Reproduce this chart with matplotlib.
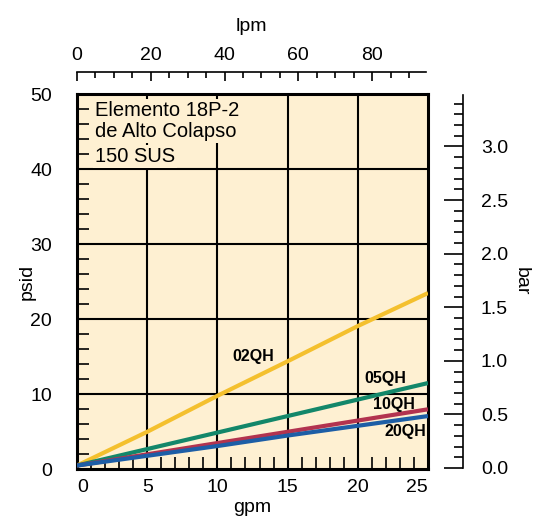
import numpy as np
import matplotlib
matplotlib.use('Agg')
import matplotlib.pyplot as plt

plt.rcParams['font.family'] = ['Liberation Sans', 'DejaVu Sans']

# 数据
gpm = [0, 5, 10, 15, 20, 25]
psid_02qh = [0.5, 5.0, 9.8, 14.4, 19.1, 23.5]
psid_05qh = [0.5, 2.7, 4.9, 7.1, 9.3, 11.5]
psid_10qh = [0.5, 2.0, 3.5, 5.0, 6.5, 8.0]
psid_20qh = [0.5, 1.8, 3.1, 4.5, 5.8, 7.1]
series_names = ['02QH', '05QH', '10QH', '20QH']
series_colors = ['#F4C02E', '#13876A', '#B2334F', '#1D5EA6']

x_ticks = [0, 5, 10, 15, 20, 25]
y_ticks = [0, 10, 20, 30, 40, 50]
lpm_ticks = [0, 20, 40, 60, 80]
bar_ticks = [0.0, 0.5, 1.0, 1.5, 2.0, 2.5, 3.0]
note_lines = ['Elemento 18P-2', 'de Alto Colapso', '150 SUS']

GPM_TO_LPM = 3.785
BAR_MAX = 3.48
bg = '#FEF0D2'
fs = 14

W, H = 545, 517
fig = plt.figure(figsize=(W / 100, H / 100), dpi=100)

# 主坐标区
left, right, top, bottom = 77, 428, 94.3, 469.3
ax = fig.add_axes([left / W, 1 - bottom / H, (right - left) / W, (bottom - top) / H])
ax.set_facecolor(bg)
ax.set_xlim(0, 25)
ax.set_ylim(0, 50)
ax.set_axisbelow(False)  # 刻度画在说明文字上面

# 网格线
for gx in [5, 10, 15, 20]:
    ax.axvline(gx, color='black', lw=1.5, zorder=1)
for gy in [10, 20, 30, 40]:
    ax.axhline(gy, color='black', lw=1.5, zorder=1)

# 曲线
all_series = [psid_02qh, psid_05qh, psid_10qh, psid_20qh]
for vals, c in zip(all_series, series_colors):
    ax.plot(gpm, vals, color=c, lw=3, solid_capstyle='butt', zorder=3)

# 曲线标签
label_pos = [(12.57, 15.0), (21.98, 12.04), (22.55, 8.7), (23.4, 5.0)]
for name, (tx, ty) in zip(series_names, label_pos):
    ax.text(tx, ty, name, fontsize=11.5, fontweight='bold', ha='center', va='center', zorder=4)

# 说明文字 (带背景遮住网格线)
note_y = [47.9, 45.1, 41.7]
for line, ny in zip(note_lines, note_y):
    ax.text(1.3, ny, line, fontsize=14.5, ha='left', va='center', zorder=1.2,
            bbox=dict(facecolor=bg, edgecolor='none', pad=1.5))

# 坐标轴刻度
ax.set_xticks(x_ticks)
ax.set_yticks(y_ticks)
ax.set_xticks(np.arange(0, 26, 1), minor=True)
ax.set_yticks(np.arange(0, 51, 2), minor=True)
ax.tick_params(axis='both', which='major', direction='in', length=0, labelsize=fs)
ax.tick_params(axis='x', which='major', pad=7)
ax.tick_params(axis='y', which='major', pad=18)
ax.tick_params(axis='both', which='minor', direction='in', length=8.6, width=1.2)
ax.tick_params(top=False, right=False, which='both')
xl = ax.get_xticklabels()
xl[0].set_ha('left')
xl[-1].set_ha('right')
ax.set_xlabel('gpm', fontsize=fs, labelpad=2)
ax.set_ylabel('psid', fontsize=fs, labelpad=-4)
for s in ax.spines.values():
    s.set_linewidth(2.2)

# 顶部短刻度
ax_t = ax.secondary_xaxis('top')
ax_t.set_xticks([5, 10, 15, 20])
ax_t.tick_params(direction='in', length=3, width=1.2, labeltop=False)
ax_t.spines['top'].set_visible(False)

# lpm 刻度 (上方)
ly = 72.3
ax_l = fig.add_axes([left / W, 1 - ly / H, (426 - left) / W, 0.0005])
ax_l.set_xlim(0, 25 * GPM_TO_LPM)
ax_l.patch.set_visible(False)
for k in ['bottom', 'left', 'right']:
    ax_l.spines[k].set_visible(False)
ax_l.spines['top'].set_linewidth(1.2)
ax_l.set_yticks([])
ax_l.xaxis.tick_top()
ax_l.xaxis.set_label_position('top')
ax_l.set_xticks(lpm_ticks)
ax_l.set_xticks(np.arange(0, 95, 5), minor=True)
ax_l.tick_params(axis='x', which='major', direction='in', length=6.8, width=1.2, pad=5.5, labelsize=fs)
ax_l.tick_params(axis='x', which='minor', direction='in', length=4.3, width=1.2)
ax_l.set_xlabel('lpm', fontsize=fs, labelpad=12)

# bar 刻度 (右侧)
bx = 462.7
ax_b = fig.add_axes([(bx - 0.5) / W, 1 - 468 / H, 0.5 / W, (468 - 95) / H])
ax_b.set_ylim(0, BAR_MAX)
ax_b.patch.set_visible(False)
for k in ['top', 'bottom', 'left']:
    ax_b.spines[k].set_visible(False)
ax_b.spines['right'].set_linewidth(1.2)
ax_b.set_xticks([])
ax_b.yaxis.tick_right()
ax_b.yaxis.set_label_position('right')
ax_b.set_yticks(bar_ticks)
ax_b.set_yticklabels([f'{v:.1f}' for v in bar_ticks])
ax_b.set_yticks(np.arange(0, 3.45, 0.1), minor=True)
ax_b.tick_params(axis='y', which='major', direction='in', length=13.7, width=1.2, pad=13, labelsize=fs)
ax_b.tick_params(axis='y', which='minor', direction='in', length=6.5, width=1.2)
ax_b.set_ylabel('bar', fontsize=fs, rotation=270, labelpad=16)

fig.savefig('out.png', dpi=100)
